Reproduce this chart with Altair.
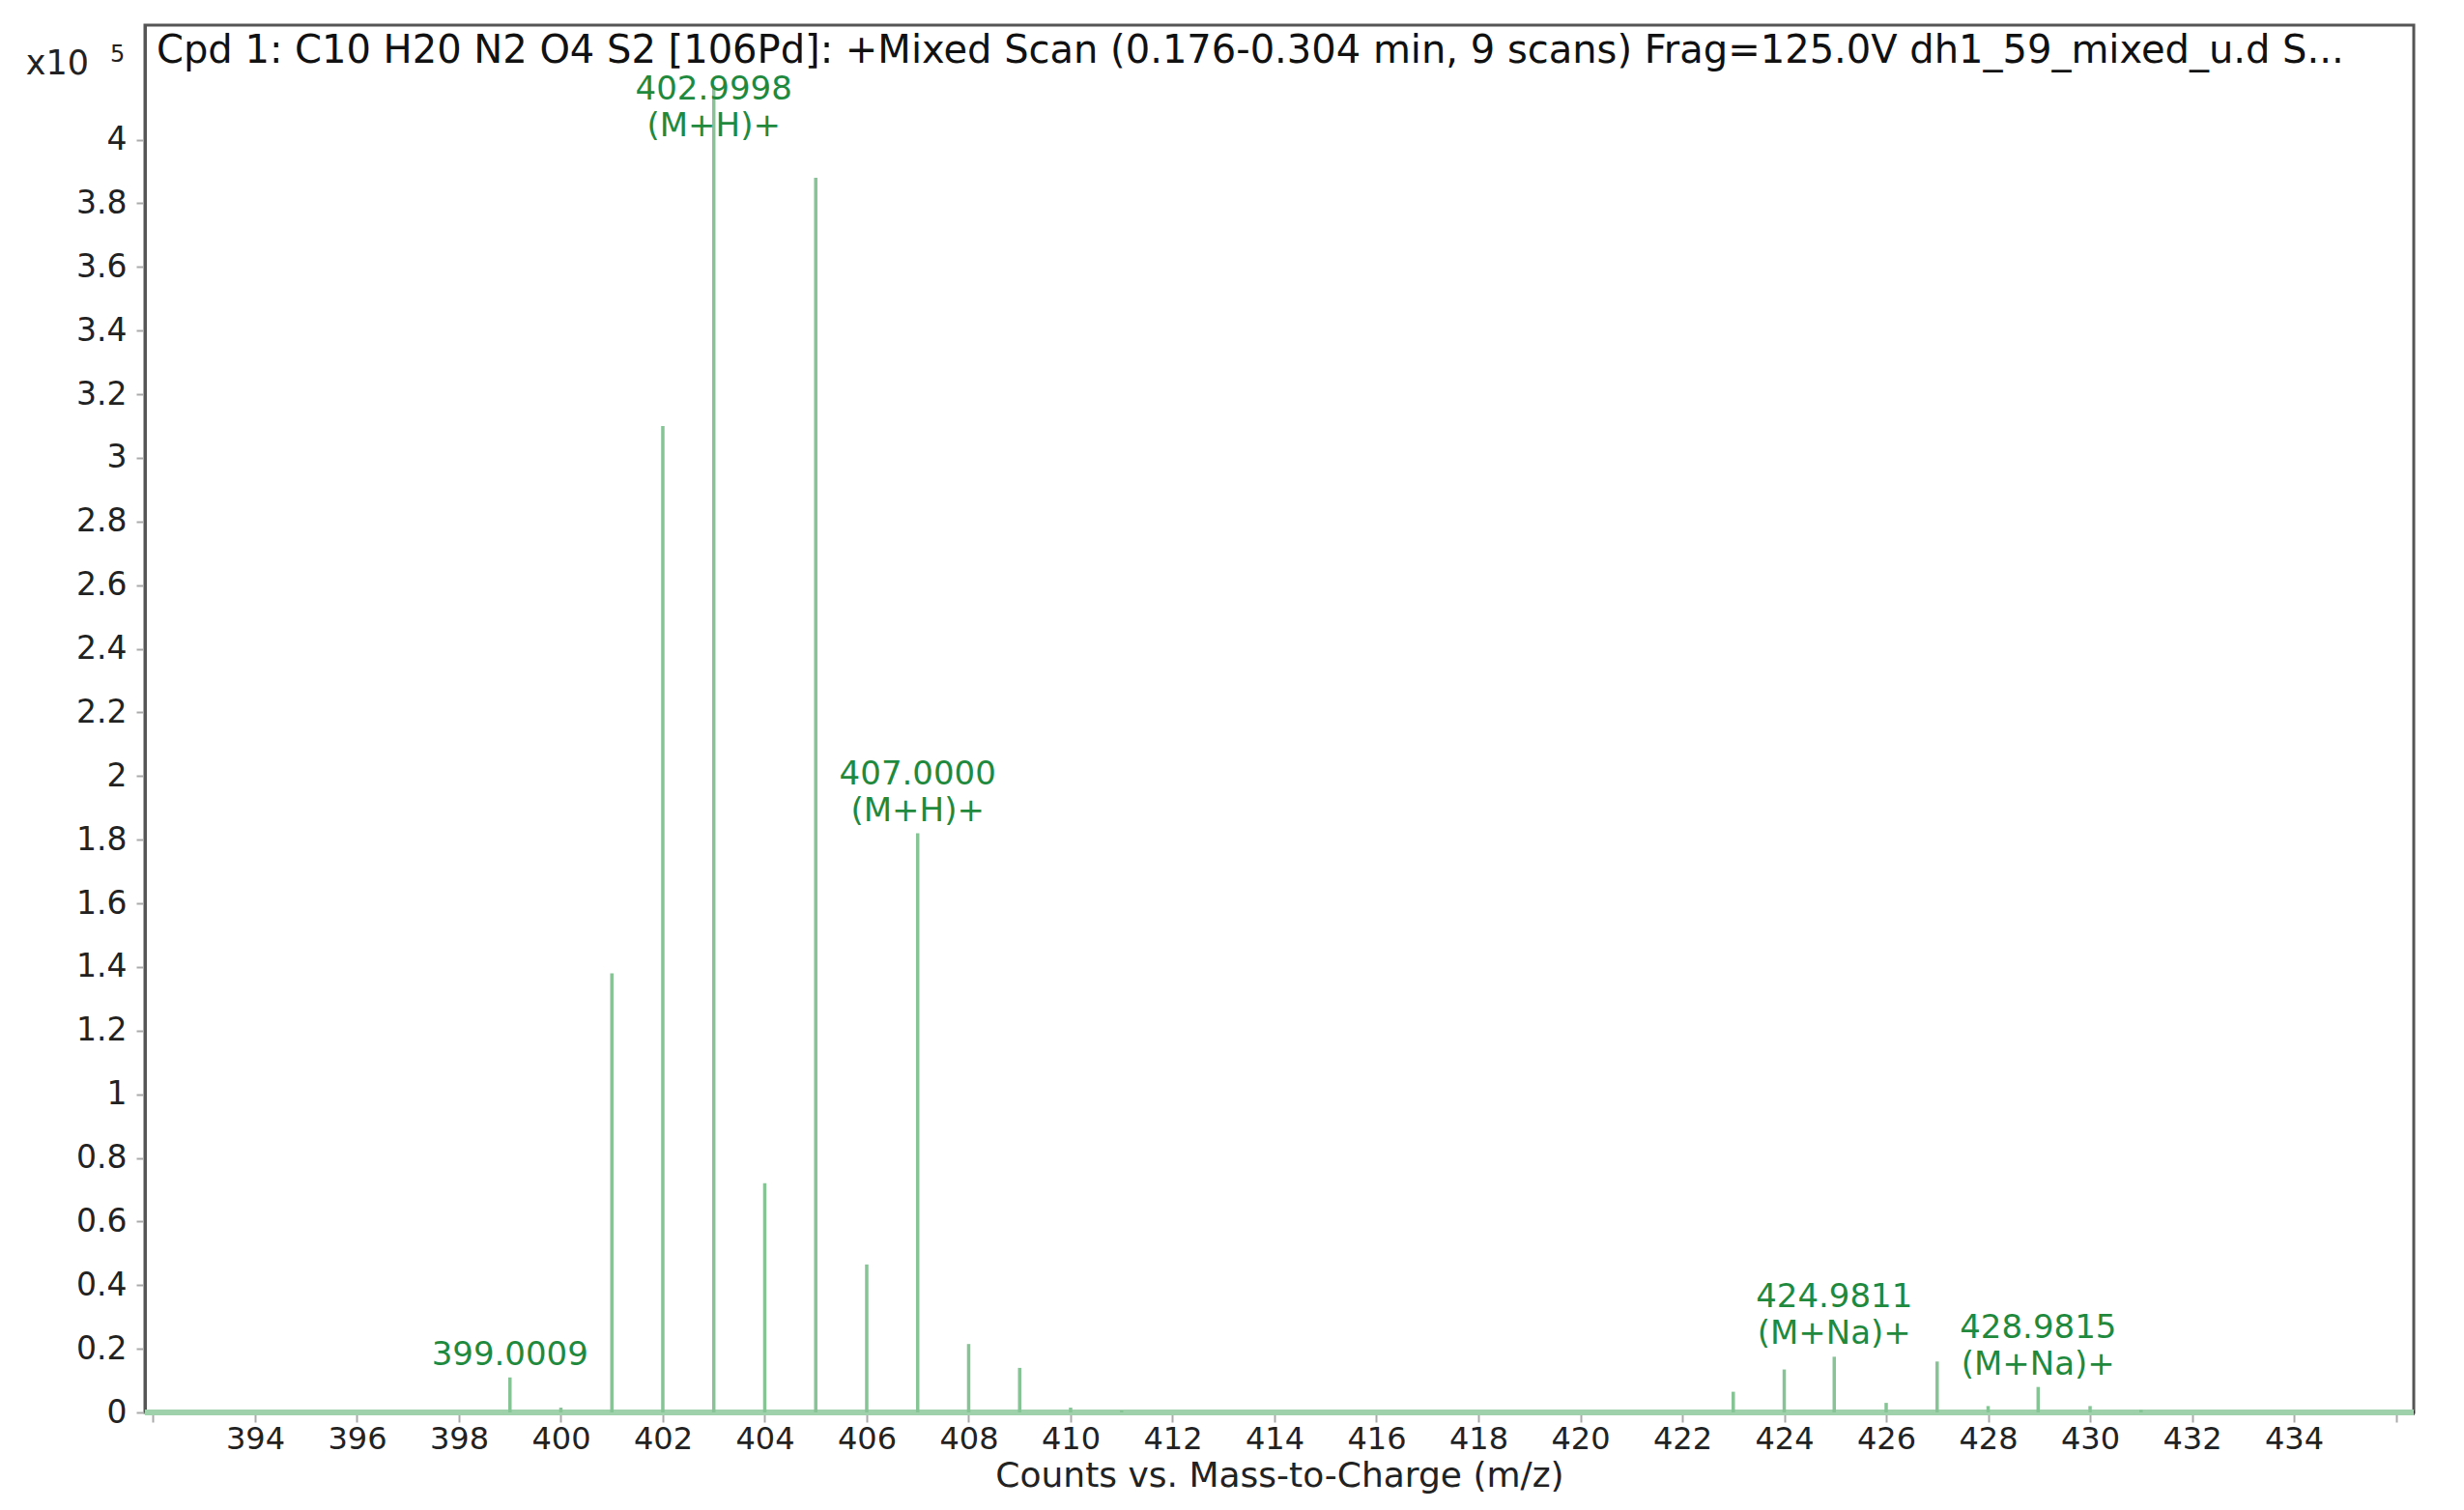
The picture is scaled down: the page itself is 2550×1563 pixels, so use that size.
import altair as alt
import pandas as pd

# ---- data (intensity in units of 10^5 counts) ----
peak_mz = [399.0009, 400.0, 401.0, 402.0, 402.9998, 404.0, 405.0, 406.0, 407.0000,
           408.0, 409.0, 410.0, 411.0, 423.0, 424.0, 424.9811, 426.0, 427.0, 428.0,
           428.9815, 430.0, 431.0]
peak_int = [0.11, 0.015, 1.38, 3.10, 4.17, 0.72, 3.88, 0.465, 1.82,
            0.215, 0.14, 0.015, 0.006, 0.065, 0.135, 0.175, 0.03, 0.16, 0.02,
            0.08, 0.02, 0.008]

label_mz = [399.0009, 402.9998, 407.0000, 424.9811, 428.9815]
label_int = [0.11, 4.17, 1.82, 0.175, 0.08]
label_mass = ["399.0009", "402.9998", "407.0000", "424.9811", "428.9815"]
label_ion = ["", "(M+H)+", "(M+H)+", "(M+Na)+", "(M+Na)+"]

x_ticks = [392, 394, 396, 398, 400, 402, 404, 406, 408, 410, 412, 414, 416, 418,
           420, 422, 424, 426, 428, 430, 432, 434, 436]
y_ticks = [0, 0.2, 0.4, 0.6, 0.8, 1, 1.2, 1.4, 1.6, 1.8, 2, 2.2, 2.4, 2.6, 2.8,
           3, 3.2, 3.4, 3.6, 3.8, 4]

title_text = ("Cpd 1: C10 H20 N2 O4 S2 [106Pd]: +Mixed Scan (0.176-0.304 min, 9 scans) "
              "Frag=125.0V dh1_59_mixed_u.d  S...")
x_title = "Counts vs. Mass-to-Charge (m/z)"

FONT = "DejaVu Sans"
GREEN_TXT = "#1f8a3e"
STICK = "#86c495"
ANN_SIZE = 34

peaks = pd.DataFrame({"mz": peak_mz, "h": peak_int, "z": [0.0] * len(peak_mz)})
labels = pd.DataFrame({"mz": label_mz, "h": label_int,
                       "mass": label_mass, "ion": label_ion})

x_scale = alt.Scale(domain=[391.84, 436.35], nice=False, zero=False)
y_scale = alt.Scale(domain=[0, 4.36], nice=False)

x_axis = alt.Axis(
    values=x_ticks,
    labelExpr="(datum.value < 393 || datum.value > 435) ? '' : datum.label",
    title=x_title, titleFont=FONT, titleFontSize=36, titleFontWeight="normal",
    titleColor="#222", titlePadding=5,
    labelFont=FONT, labelFontSize=32, labelColor="#222", labelPadding=2,
    labelFlush=False, labelOverlap=False,
    tickColor="#aaaaaa", tickSize=10, tickWidth=2,
    domainColor="#000000", domainWidth=5, grid=False,
)
y_axis = alt.Axis(
    values=y_ticks, format="~g", title=None,
    labelFont=FONT, labelFontSize=33, labelColor="#222", labelPadding=10,
    labelFlush=False, labelOverlap=False,
    tickColor="#aaaaaa", tickSize=9, tickWidth=2,
    domainColor="#555555", domainWidth=3, grid=False,
)

sticks = alt.Chart(peaks).mark_rule(color=STICK, strokeWidth=3.5).encode(
    x=alt.X("mz:Q", scale=x_scale, axis=x_axis),
    y=alt.Y("z:Q", scale=y_scale, axis=y_axis),
    y2="h:Q",
)

baseline = alt.Chart(pd.DataFrame({"a": [391.84], "b": [436.35], "z": [0.0]})).mark_rule(
    color="#9fd1aa", strokeWidth=6
).encode(x="a:Q", x2="b:Q", y="z:Q")

base_lab = alt.Chart(labels).transform_calculate(ly="min(datum.h, 3.97)")
txt_style = dict(font=FONT, fontSize=ANN_SIZE, color=GREEN_TXT, align="center",
                 baseline="bottom")

mass_two = base_lab.transform_filter("datum.ion != ''").mark_text(
    dy=-44, **txt_style).encode(x="mz:Q", y="ly:Q", text="mass:N")
mass_one = base_lab.transform_filter("datum.ion == ''").mark_text(
    dy=-6, **txt_style).encode(x="mz:Q", y="ly:Q", text="mass:N")
ion_txt = base_lab.transform_filter("datum.ion != ''").mark_text(
    dy=-6, **txt_style).encode(x="mz:Q", y="ly:Q", text="ion:N")

title_df = pd.DataFrame({"t": [title_text]})
title_mark = alt.Chart(title_df).mark_text(
    font=FONT, fontSize=40, color="#111", align="left", baseline="middle"
).encode(x=alt.value(12), y=alt.value(27), text="t:N")

x10 = alt.Chart(pd.DataFrame({"t": ["x10"]})).mark_text(
    font=FONT, fontSize=35, color="#222", align="right", baseline="middle"
).encode(x=alt.value(-58), y=alt.value(40), text="t:N")
sup = alt.Chart(pd.DataFrame({"t": ["5"]})).mark_text(
    font=FONT, fontSize=24, color="#222", align="left", baseline="middle"
).encode(x=alt.value(-36), y=alt.value(31), text="t:N")

chart = alt.layer(baseline, sticks, mass_two, mass_one, ion_txt,
                  title_mark, x10, sup).properties(
    width=2348, height=1436,
    autosize=alt.AutoSizeParams(type="none"),
    padding={"left": 142, "top": 18, "right": 40, "bottom": 90},
).configure_view(stroke="#555555", strokeWidth=3)

chart.save("out.html", embed_options={"renderer": "svg", "actions": False})
